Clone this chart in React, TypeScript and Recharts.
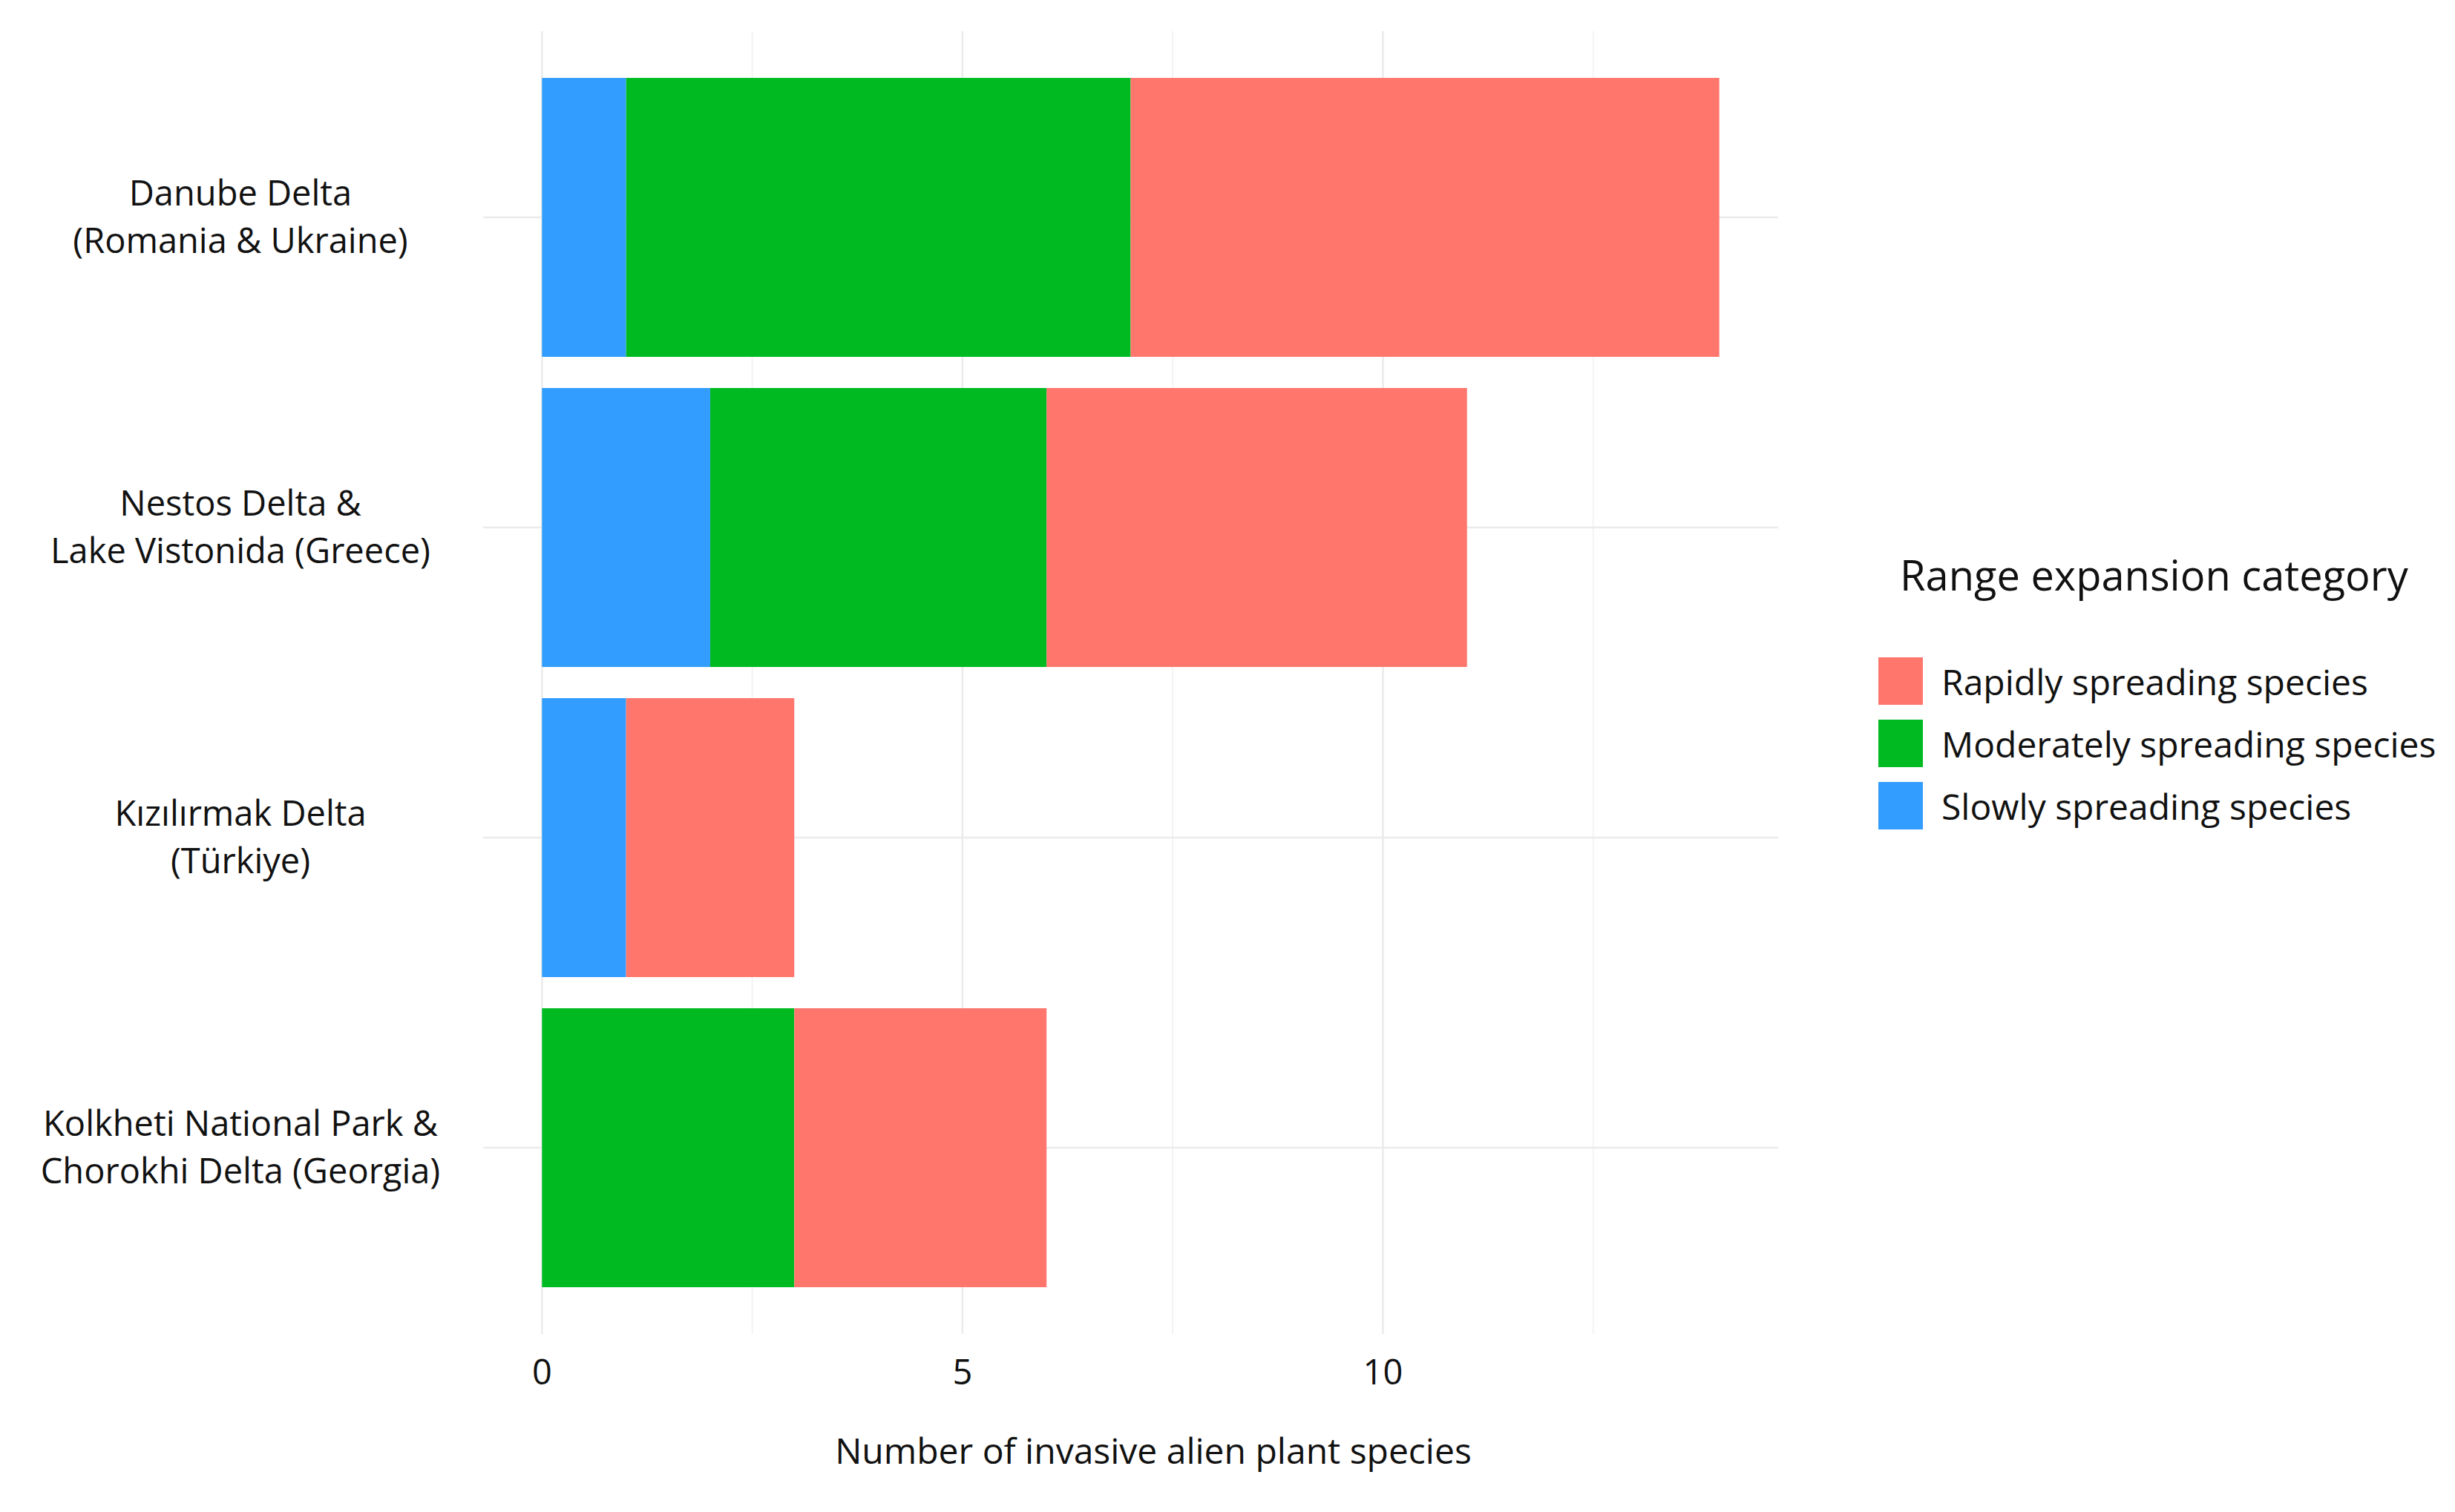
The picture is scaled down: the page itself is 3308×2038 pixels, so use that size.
import {BarChart, Bar, XAxis, YAxis, CartesianGrid} from "recharts";

// wetland sites, each label drawn on two lines like in the figure
const siteLines: string[][] = [
    ["Danube Delta", "(Romania & Ukraine)"],
    ["Nestos Delta &", "Lake Vistonida (Greece)"],
    ["Kızılırmak Delta", "(Türkiye)"],
    ["Kolkheti National Park &", "Chorokhi Delta (Georgia)"],
];

// number of invasive alien plant species per range expansion category
const slowly = [1, 2, 1, 0];
const moderately = [6, 4, 0, 3];
const rapidly = [7, 5, 2, 3];

const majorTicks = [0, 5, 10];
const minorTicks = [2.5, 7.5, 12.5];
const xDomain: [number, number] = [-0.7, 14.7];

const legendItems = [
    {name: "Rapidly spreading species", color: "#FF766D"},
    {name: "Moderately spreading species", color: "#00BA22"},
    {name: "Slowly spreading species", color: "#339DFF"},
];

const FONT = "'Open Sans', sans-serif";
const W = 3308;
const H = 2038;

const chartData = siteLines.map((lines, i) => ({
    site: lines.join(" "),
    slow: slowly[i],
    moderate: moderately[i],
    rapid: rapidly[i],
}));

const SiteTick = ({y, payload}: any) => {
    const idx = chartData.findIndex((d) => d.site === payload.value);
    const lines = siteLines[idx] || [payload.value];
    return (
        <text x={324} y={y} textAnchor="middle" fontFamily={FONT} fontSize={47} fill="#111">
            {lines.map((l, k) => (
                <tspan key={k} x={324} dy={k === 0 ? -16 : 64}>{l}</tspan>
            ))}
        </text>
    );
};

export default function App() {
    return (
        <div style={{position: "relative", width: W, height: H, background: "#fff", fontFamily: FONT}}>
            <style>{`body{margin:0}`}</style>
            <BarChart
                width={W}
                height={H}
                data={chartData}
                layout="vertical"
                margin={{top: 42, right: 912, bottom: 0, left: 37}}
                barCategoryGap="5%"
            >
                <CartesianGrid horizontal={false} verticalValues={minorTicks} stroke="#F3F3F3" strokeWidth={2}/>
                <CartesianGrid syncWithTicks verticalValues={majorTicks} stroke="#EBEBEB" strokeWidth={2.5}/>
                <XAxis
                    type="number"
                    domain={xDomain}
                    ticks={majorTicks}
                    allowDataOverflow
                    axisLine={false}
                    tickLine={false}
                    tickMargin={29}
                    height={240}
                    tick={{fontSize: 47, fill: "#111", fontFamily: FONT}}
                />
                <YAxis
                    type="category"
                    dataKey="site"
                    width={614}
                    axisLine={false}
                    tickLine={false}
                    padding={{top: 42, bottom: 42}}
                    tick={<SiteTick/>}
                />
                <Bar dataKey="slow" stackId="a" fill="#339DFF" isAnimationActive={false}/>
                <Bar dataKey="moderate" stackId="a" fill="#00BA22" isAnimationActive={false}/>
                <Bar dataKey="rapid" stackId="a" fill="#FF766D" isAnimationActive={false}/>
            </BarChart>

            <div style={{position: "absolute", left: 1104, top: 1922, width: 900, textAlign: "center", fontSize: 48, color: "#111", whiteSpace: "nowrap"}}>
                Number of invasive alien plant species
            </div>

            <div style={{position: "absolute", left: 2531, top: 736, color: "#111"}}>
                <div style={{fontSize: 56, marginLeft: 29, whiteSpace: "nowrap", marginBottom: 64}}>
                    Range expansion category
                </div>
                {legendItems.map((it) => (
                    <div key={it.name} style={{display: "flex", alignItems: "center", height: 84}}>
                        <div style={{width: 60, height: 64, background: it.color}}/>
                        <span style={{fontSize: 48, marginLeft: 25, whiteSpace: "nowrap"}}>{it.name}</span>
                    </div>
                ))}
            </div>
        </div>
    );
}
